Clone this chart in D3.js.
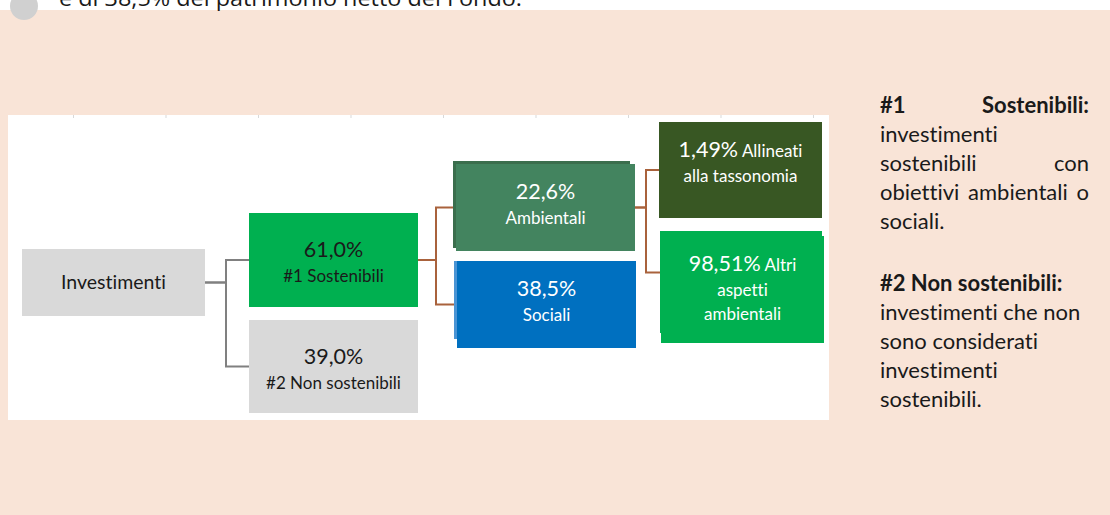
<!DOCTYPE html>
<html>
<head>
<meta charset="utf-8">
<script src="https://cdn.jsdelivr.net/npm/d3@7"></script>
<style>
    html, body { margin: 0; padding: 0; background: #fff; }
    svg { display: block; }
    text { font-family: Lato, "Noto Sans", sans-serif; font-variant-ligatures: none; }
</style>
</head>
<body>
<div id="chart"></div>
<script>
// --- data ---
const nodeIds     = ["inv", "s1", "s2", "amb", "soc", "tax", "altri"];
const nodeParents = [null, "inv", "inv", "s1", "s1", "amb", "amb"];
const nodeLevels  = [0, 1, 1, 2, 2, 3, 3];
const nodeValues  = [null, 61.0, 39.0, 22.6, 38.5, 1.49, 98.51];
const nodeLabels  = ["Investimenti", "#1 Sostenibili", "#2 Non sostenibili", "Ambientali", "Sociali",
                     "Allineati\nalla tassonomia", "Altri\naspetti\nambientali"];

const headText = "è di 38,5% del patrimonio netto del Fondo.";
const legendParas = [
    {title: "#1 Sostenibili:", lines: ["investimenti", "sostenibili con", "obiettivi ambientali o", "sociali."], justify: true},
    {title: "#2 Non sostenibili:", lines: ["investimenti che non", "sono considerati", "investimenti", "sostenibili."], justify: false}
];

// --- layout / style (kept apart from the data) ---
const W = 1110, H = 515;
const colX = d3.scaleOrdinal().domain([0, 1, 2, 3]).range([22, 249, 455, 659]);
const colW = d3.scaleOrdinal().domain([0, 1, 2, 3]).range([183, 169, 179, 163]);
const rows = {
    inv:   {y: 249, h: 67},
    s1:    {y: 213, h: 94},
    s2:    {y: 320, h: 93},
    amb:   {y: 164, h: 87, dx: 1, back: {dx: -3, dy: -3, w: 177, h: 87, fill: "#3b6e4d"}},
    soc:   {y: 261, h: 87, dx: 2, back: {dx: -3, dy: 0, w: 8, h: 78, fill: "#4a94d4"}},
    tax:   {y: 122, h: 96},
    altri: {y: 236, h: 107, dx: 2, anchorDy: -17, back: {dx: -1, dy: -5, w: 162, h: 102, fill: "#00b050"}}
};
const fills = {inv: "#d9d9d9", s1: "#00b050", s2: "#d9d9d9", amb: "#43845f", soc: "#0070c0", tax: "#385723", altri: "#00b050"};
const firstBaseline = [40, 44, 35, 35];
const lineGap = 24.5;

const itLocale = d3.formatLocale({decimal: ",", thousands: ".", grouping: [3], currency: ["", "€"]});

const nodes = nodeIds.map((id, i) => {
    const lvl = nodeLevels[i], r = rows[id];
    return {
        id, parent: nodeParents[i], level: lvl, value: nodeValues[i],
        label: nodeLabels[i].split("\n"),
        x: colX(lvl) + (r.dx || 0), y: r.y, w: colW(lvl), h: r.h, r
    };
});
const byId = new Map(nodes.map(d => [d.id, d]));

const svg = d3.select("#chart").append("svg")
    .attr("width", W).attr("height", H);

// page background
svg.append("rect").attr("width", W).attr("height", H).attr("fill", "#fff");
svg.append("rect").attr("y", 10).attr("width", W).attr("height", H - 10).attr("fill", "#f9e4d7");

// cut-off line of text above the box
svg.append("circle").attr("cx", 24).attr("cy", 6).attr("r", 14).attr("fill", "#d0d0d0");
svg.append("text")
    .attr("x", 59).attr("y", 6)
    .attr("textLength", 463).attr("lengthAdjust", "spacingAndGlyphs")
    .style("font-family", "'Open Sans', sans-serif")
    .style("font-size", "21px").attr("fill", "#1a1a1a")
    .text(headText);

// white chart area
svg.append("rect").attr("x", 8).attr("y", 115).attr("width", 821).attr("height", 305).attr("fill", "#fff");

// faint tick marks left over from the chart frame
const tickScale = d3.scaleLinear().domain([0, 8]).range([73, 813]);
const tickG = svg.append("g").attr("transform", "translate(0,118)")
    .call(d3.axisTop(tickScale).ticks(8).tickSize(3).tickFormat(""));
tickG.select(".domain").remove();
tickG.selectAll("line").attr("stroke", "#d9d9d9");

// connectors
const line = d3.line();
const groups = d3.group(nodes.filter(d => d.parent), d => d.parent);
const linkG = svg.append("g").attr("fill", "none").attr("stroke-width", 2);
groups.forEach((kids, pid) => {
    const p = byId.get(pid);
    const px = p.x + p.w, py = p.y + p.h / 2;
    const mx = Math.round((px + kids[0].x) / 2) - 1;
    kids.forEach(c => {
        const cy = c.y + c.h / 2 + (c.r.anchorDy || 0);
        linkG.append("path")
            .attr("d", line([[px, py], [mx, py], [mx, cy], [c.x, cy]]))
            .attr("stroke", p.level === 0 ? "#808080" : "#a9623c");
    });
});

// boxes
const boxG = svg.append("g").selectAll("g").data(nodes).join("g");
boxG.filter(d => d.r.back).append("rect")
    .attr("x", d => d.x + d.r.back.dx).attr("y", d => d.y + d.r.back.dy)
    .attr("width", d => d.r.back.w).attr("height", d => d.r.back.h)
    .attr("fill", d => d.r.back.fill);
boxG.append("rect")
    .attr("x", d => d.x).attr("y", d => d.y)
    .attr("width", d => d.w).attr("height", d => d.h)
    .attr("fill", d => fills[d.id]);

// box text
boxG.each(function(d) {
    const g = d3.select(this);
    const cx = d.x + d.w / 2;
    const col = d.level <= 1 ? "#1a1a1a" : "#ffffff";
    const t = g.append("text").attr("text-anchor", "middle").attr("fill", col);
    const y0 = d.y + firstBaseline[d.level];
    if (d.value === null) {
        t.append("tspan").attr("x", cx).attr("y", y0).style("font-size", "19.5px").text(d.label[0]);
        return;
    }
    const vtxt = itLocale.format(d.level === 3 ? ".2f" : ".1f")(d.value) + "%";
    t.append("tspan").attr("x", cx).attr("y", y0).style("font-size", "21.5px").text(vtxt);
    let rest = d.label;
    if (d.level === 3) {
        t.append("tspan").style("font-size", "17px").text(" " + d.label[0]);
        rest = d.label.slice(1);
    }
    rest.forEach((s, i) => {
        t.append("tspan").attr("x", cx).attr("y", y0 + lineGap * (i + 1))
            .style("font-size", "17px").text(s);
    });
});

// legend text on the right
const lx0 = 880, lx1 = 1089;
const legendBase = [113, 291];
const legG = svg.append("g").attr("fill", "#1a1a1a").style("font-size", "22px");
legendParas.forEach((p, pi) => {
    const allLines = [{s: p.title, bold: true}].concat(p.lines.map(s => ({s, bold: false})));
    allLines.forEach((ln, li) => {
        const y = legendBase[pi] + li * 29;
        const words = ln.s.split(" ");
        const isLast = li === allLines.length - 1;
        if (p.justify && !isLast && words.length > 1) {
            const ws = words.map(w => {
                const tt = legG.append("text").attr("y", y)
                    .style("font-weight", ln.bold ? "bold" : "normal").text(w);
                return {tt, len: tt.node().getComputedTextLength()};
            });
            const gap = (lx1 - lx0 - d3.sum(ws, w => w.len)) / (words.length - 1);
            let x = lx0;
            ws.forEach(w => { w.tt.attr("x", x); x += w.len + gap; });
        } else {
            legG.append("text").attr("x", lx0).attr("y", y)
                .style("font-weight", ln.bold ? "bold" : "normal").text(ln.s);
        }
    });
});
</script>
</body>
</html>
